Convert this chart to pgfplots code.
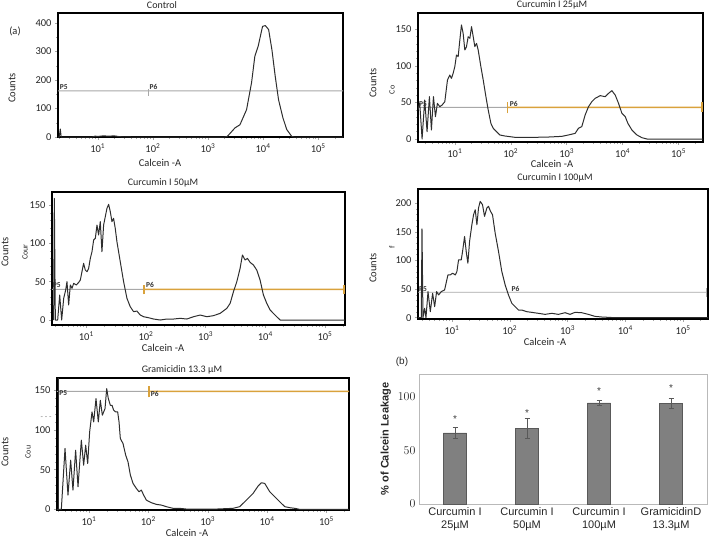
\documentclass[border=0pt]{standalone}
\usepackage{fontspec}
\setmainfont{Carlito}
\newfontfamily\arial{Liberation Sans}
\usepackage{pgfplots}
\pgfplotsset{compat=1.18}

\definecolor{gatecol}{HTML}{A8A8A8}
\definecolor{orangecol}{HTML}{D9A23C}
\definecolor{curvecol}{HTML}{2E2E2E}
\definecolor{barfill}{HTML}{808080}

\pgfplotsset{
 flow/.style={
  scale only axis,
  axis line style={line width=1.3pt, black},
  xtick={1,2,3,4,5},
  xticklabels={10\textsuperscript{1},10\textsuperscript{2},10\textsuperscript{3},10\textsuperscript{4},10\textsuperscript{5}},
  minor xtick={0.301,0.477,0.602,0.699,0.778,0.845,0.903,0.954,
   1.301,1.477,1.602,1.699,1.778,1.845,1.903,1.954,
   2.301,2.477,2.602,2.699,2.778,2.845,2.903,2.954,
   3.301,3.477,3.602,3.699,3.778,3.845,3.903,3.954,
   4.301,4.477,4.602,4.699,4.778,4.845,4.903,4.954,5.301},
  tick style={gray!70, line width=0.4pt},
  major tick length=3pt, minor tick length=2pt,
  tick align=outside, tick pos=left,
  /pgf/number format/assume math mode=true,
  tick label style={font=\fontsize{10.5}{12}\selectfont, text=black!85},
  clip=true,
 },
}
\tikzset{
 curve/.style={curvecol, line width=1pt, line join=round},
 gate/.style={gatecol, line width=0.9pt},
 gateo/.style={draw=orangecol, line width=1.4pt},
 plab/.style={font=\fontsize{7.5}{8}\selectfont\bfseries, text=black!80, inner sep=0.5pt},
}

\begin{document}
\begin{tikzpicture}[every node/.style={font=\fontsize{10.5}{12}\selectfont, text=black!85}]

% ---------------- Panel 1: Control
\begin{axis}[flow, at={(58pt,-137pt)}, anchor=south west, width=285pt, height=124pt,
  xmin=0.278, xmax=5.45, ymin=0, ymax=435, ytick={0,100,200,300,400}, minor y tick num=1]
\addplot[gate] coordinates {(0.278,162.01) (5.45,161.99)};
\addplot[gate] coordinates {(1.915,145) (1.915,170)};
\addplot[curve] coordinates {(0.278,0) (0.30,0) (0.32,28) (0.335,0) (0.9,0) (0.95,3) (1.0,2) (1.1,4) (1.2,3) (1.3,4) (1.4,1) (1.6,0) (3.3,0) (3.35,2) (3.49,32) (3.58,43) (3.70,96) (3.79,190) (3.85,283) (3.91,318) (3.95,353) (3.99,388) (4.04,391) (4.10,377) (4.16,306) (4.22,213) (4.28,131) (4.36,67) (4.43,26) (4.52,2) (4.56,0) (5.45,0)};
\node[plab, anchor=south west] at (axis cs:0.30,164) {P5};
\node[plab, anchor=south west] at (axis cs:1.93,164) {P6};
\end{axis}

% ---------------- Panel 2: Curcumin I 25uM
\begin{axis}[flow, at={(418pt,-142pt)}, anchor=south west, width=285pt, height=129pt,
  xmin=0.342, xmax=5.437, ymin=-4.1, ymax=172.3, ytick={0,50,100,150}, minor y tick num=4]
\addplot[gate] coordinates {(0.342,43.31) (1.944,43.29)};
\addplot[gateo] coordinates {(1.944,43.31) (5.43,43.29)};
\addplot[gateo] coordinates {(1.944,35) (1.944,50)};
\addplot[gateo] coordinates {(5.42,37) (5.42,50)};
\addplot[curve] coordinates {(0.342,40) (0.373,48.8) (0.415,0) (0.462,53.3) (0.504,10) (0.546,57.9) (0.582,12.3) (0.618,57.9) (0.654,30.5) (0.689,48.8) (0.731,44.2) (0.773,46.5) (0.821,51) (0.869,80.7) (0.910,87.5) (0.940,83) (0.970,89.8) (1.0,98.9) (1.030,114.9) (1.060,112.6) (1.090,135.4) (1.119,155.9) (1.149,144.5) (1.179,121.7) (1.209,126.3) (1.239,139.9) (1.269,137.7) (1.299,153.6) (1.329,139.9) (1.358,126.3) (1.388,130.8) (1.418,121.7) (1.466,98.9) (1.508,80.7) (1.556,57.9) (1.597,39.7) (1.645,21.4) (1.687,14.6) (1.747,10) (1.806,5.5) (1.896,4.1) (1.986,3.2) (2.075,2.3) (2.195,2.3) (2.434,2.3) (2.673,2.7) (2.912,3.6) (3.031,5.5) (3.151,7.7) (3.210,14.6) (3.270,16.9) (3.330,32.8) (3.390,44.2) (3.449,51) (3.509,55.6) (3.599,59.3) (3.688,57.9) (3.748,62.4) (3.808,66.1) (3.867,60.2) (3.927,48.8) (3.987,35.1) (4.047,30.5) (4.094,21.4) (4.166,12.3) (4.256,5.5) (4.345,1.8) (4.435,0) (5.437,0)};
\node[plab, anchor=south west] at (axis cs:0.35,44) {P5};
\node[plab, anchor=south west] at (axis cs:1.97,44) {P6};
\end{axis}

% ---------------- Panel 3: Curcumin I 50uM
\begin{axis}[flow, at={(52pt,-325pt)}, anchor=south west, width=293pt, height=133pt,
  xmin=0.425, xmax=5.335, ymin=-6.5, ymax=167, ytick={0,50,100,150}, minor y tick num=4]
\addplot[gate] coordinates {(0.425,40.01) (1.97,39.99)};
\addplot[gateo] coordinates {(1.97,40.01) (5.33,39.99)};
\addplot[gateo] coordinates {(1.97,33.5) (1.97,46)};
\addplot[gateo] coordinates {(5.32,34) (5.32,46)};
\addplot[curve] coordinates {(0.453,0) (0.464,158.7) (0.481,0) (0.520,0) (0.554,32.6) (0.587,0) (0.621,28.3) (0.654,39.1) (0.676,50) (0.704,19.6) (0.732,45.7) (0.760,41.3) (0.788,47.8) (0.833,45.7) (0.872,49.1) (0.900,52.2) (0.927,63) (0.955,73.9) (0.983,65.2) (1.011,63) (1.039,67.4) (1.067,80.4) (1.095,89.1) (1.123,104.4) (1.151,106.5) (1.179,123.9) (1.206,110.9) (1.234,128.3) (1.262,89.1) (1.290,123.9) (1.318,134.8) (1.346,145.7) (1.374,150.9) (1.402,141.3) (1.430,128.3) (1.457,132.6) (1.485,119.6) (1.513,102.2) (1.569,76.1) (1.625,50) (1.681,28.3) (1.736,17.4) (1.792,10.9) (1.848,11.7) (1.904,6.5) (1.960,4.3) (2.043,3) (2.127,1.3) (2.238,0) (2.350,1.3) (2.462,1.3) (2.573,2.2) (2.685,1.3) (2.796,4.3) (2.908,6.5) (3.020,4.3) (3.131,5.7) (3.243,8.7) (3.354,15.2) (3.410,21.7) (3.466,37) (3.522,50) (3.577,67.4) (3.616,84.8) (3.661,78.3) (3.700,80.4) (3.745,75.2) (3.801,71.7) (3.856,65.2) (3.912,52.2) (3.968,32.6) (4.024,21.7) (4.080,13) (4.163,6.5) (4.247,0) (5.335,0)};
\node[plab, anchor=south west] at (axis cs:0.43,41) {P5};
\node[plab, anchor=south west] at (axis cs:1.99,41) {P6};
\end{axis}

% ---------------- Panel 4: Curcumin I 100uM
\begin{axis}[flow, at={(418pt,-319pt)}, anchor=south west, width=290pt, height=130pt,
  xmin=0.413, xmax=5.43, ymin=-2.3, ymax=224.5, ytick={0,50,100,150,200}, minor y tick num=4]
\addplot[gate] coordinates {(0.413,44.31) (5.40,44.29)};
\addplot[gate] coordinates {(5.40,36) (5.40,52)};
\addplot[curve] coordinates {(0.413,0) (0.47,0) (0.482,155) (0.499,0) (0.528,16.3) (0.551,0) (0.586,45.5) (0.626,10.5) (0.666,42.6) (0.701,19.2) (0.735,45.5) (0.770,39.7) (0.816,45.5) (0.873,48.4) (0.931,74.6) (0.971,74.6) (1.012,77.6) (1.058,74.6) (1.086,80.5) (1.115,100.9) (1.161,100.9) (1.184,115.5) (1.219,141.7) (1.247,115.5) (1.276,95) (1.305,133) (1.345,162.1) (1.374,179.6) (1.403,188.3) (1.432,162.1) (1.460,191.3) (1.489,202.9) (1.529,197.1) (1.564,176.7) (1.604,191.3) (1.633,194.2) (1.668,185.4) (1.702,179.6) (1.748,147.5) (1.806,115.5) (1.863,80.5) (1.921,57.1) (1.978,39.7) (2.036,25.1) (2.094,19.2) (2.151,13.4) (2.209,13.4) (2.295,10.5) (2.381,9.3) (2.496,7.6) (2.612,5.8) (2.727,7.6) (2.842,5.8) (2.957,8.7) (3.043,5.8) (3.129,9.3) (3.245,8.7) (3.360,5.8) (3.475,2.3) (3.590,1.2) (3.820,0) (5.43,0)};
\node[plab, anchor=south west] at (axis cs:0.42,45) {P5};
\node[plab, anchor=south west] at (axis cs:2.02,45) {P6};
\end{axis}

% ---------------- Panel 5: Gramicidin 13.3 uM
\begin{axis}[flow, at={(57pt,-510pt)}, anchor=south west, width=292pt, height=132pt,
  xmin=0.461, xmax=5.38, ymin=-0.8, ymax=165.5, ytick={0,50,100,150}, minor y tick num=4]
\addplot[gate] coordinates {(0.461,148.71) (2.01,148.69)};
\addplot[gateo] coordinates {(2.01,148.71) (5.38,148.69)};
\addplot[gateo] coordinates {(2.01,141) (2.01,155)};
\addplot[curvecol, line width=0.8pt] coordinates {(0.48,0) (0.48,165)};
\addplot[curve] coordinates {(0.461,0) (0.534,0) (0.596,76.7) (0.646,18) (0.691,62) (0.730,24.3) (0.775,74.6) (0.815,28.5) (0.871,87.2) (0.910,55.7) (0.944,80.9) (0.978,57.8) (1.011,97.6) (1.051,122.8) (1.079,110.2) (1.118,139.5) (1.157,110.2) (1.191,137.4) (1.225,118.6) (1.270,127) (1.298,152.1) (1.326,139.5) (1.360,131.1) (1.388,131.1) (1.416,124.9) (1.449,122.8) (1.483,122.8) (1.506,110.2) (1.528,89.2) (1.573,83) (1.618,68.3) (1.657,59.9) (1.697,43.2) (1.742,32.7) (1.798,26.4) (1.843,22.2) (1.882,24.3) (1.921,18) (1.966,11.7) (2.051,8.4) (2.135,6.3) (2.219,5.4) (2.303,3.4) (2.416,1.3) (2.528,1.3) (2.640,0.4) (3.146,0.4) (3.427,1.3) (3.539,3.4) (3.652,11.7) (3.764,20.1) (3.848,29.3) (3.904,33.5) (3.961,32.7) (4.045,22.2) (4.129,15.9) (4.213,9.6) (4.298,3.4) (4.382,2.1) (4.466,1.3) (4.551,0) (5.38,0)};
\node[plab, anchor=west] at (axis cs:0.49,146) {P5};
\node[plab, anchor=west] at (axis cs:2.03,146) {P6};
\end{axis}

% ---------------- Panel b: bar chart
\begin{axis}[at={(419pt,-504pt)}, anchor=south west, scale only axis, width=288pt, height=130pt,
  xmin=-0.5, xmax=3.5, ymin=0, ymax=121.5, ybar, bar width=0.32,
  xtick={0,1,2,3}, xticklabels={Curcumin I\\25µM, Curcumin I\\50µM, Curcumin I\\100µM, GramicidinD\\13.3µM},
  xticklabel style={align=center, font=\arial\fontsize{11}{13}\selectfont, text=black!85},
  ytick={0,50,100}, yticklabel style={font=\arial\fontsize{12}{14}\selectfont, text=black!85},
  axis line style={gray!55, line width=0.6pt}, major tick length=0pt, tick pos=left,
  ylabel={\bfseries\% of Calcein Leakage}, ylabel style={font=\arial\fontsize{11}{13}\selectfont, text=black!85},
  ]
\addplot[fill=barfill, draw=black!65, line width=0.5pt,
  error bars/.cd, y dir=both, y explicit,
  error bar style={black!65, line width=0.6pt},
  error mark options={rotate=90, mark size=2.5pt, black!65, line width=0.6pt}]
  coordinates {(0,66.5) +- (0,5.2) (1,70.8) +- (0,9.2) (2,94.5) +- (0,2.5) (3,94) +- (0,5)};
\node[font=\arial\fontsize{10}{10}\selectfont, text=black!75] at (axis cs:0,79) {*};
\node[font=\arial\fontsize{10}{10}\selectfont, text=black!75] at (axis cs:1,85) {*};
\node[font=\arial\fontsize{10}{10}\selectfont, text=black!75] at (axis cs:2,106) {*};
\node[font=\arial\fontsize{10}{10}\selectfont, text=black!75] at (axis cs:3,108) {*};
\end{axis}

% ---------------- free text
\node at (15pt,-31pt) {(a)};
\node[font=\arial\fontsize{10}{12}\selectfont] at (402pt,-362pt) {(b)};
\node[font=\fontsize{10}{12}\selectfont] at (162pt,-5pt) {Control};
\node[font=\fontsize{10}{12}\selectfont] at (552pt,-5pt) {Curcumin I 25µM};
\node[font=\fontsize{10}{12}\selectfont] at (163pt,-183pt) {Curcumin I 50µM};
\node[font=\fontsize{10}{12}\selectfont] at (555pt,-178pt) {Curcumin I 100µM};
\node[font=\fontsize{10}{12}\selectfont] at (182pt,-370pt) {Gramicidin 13.3 µM};
\node[rotate=90] at (12pt,-88pt) {Counts};
\node[rotate=90] at (373pt,-83pt) {Counts};
\node[rotate=90] at (5pt,-252pt) {Counts};
\node[rotate=90] at (373pt,-268pt) {Counts};
\node[rotate=90] at (5pt,-452pt) {Counts};
\node[rotate=90, font=\fontsize{8}{9}\selectfont] at (392pt,-90pt) {Co};
\node[rotate=90, font=\fontsize{8}{9}\selectfont] at (25pt,-252pt) {Cour};
\node[rotate=90, font=\fontsize{8}{9}\selectfont] at (392pt,-247pt) {f};
\node[rotate=90, font=\fontsize{8}{9}\selectfont] at (28pt,-452pt) {Cou};
\node[font=\fontsize{8}{9}\selectfont, text=gray] at (46pt,-418pt) {- - -};
\node at (160pt,-163pt) {Calcein -A};
\node at (552pt,-164pt) {Calcein -A};
\node at (163pt,-348pt) {Calcein -A};
\node at (545pt,-342pt) {Calcein -A};
\node at (187pt,-533pt) {Calcein -A};

\pgfresetboundingbox
\path[use as bounding box] (0pt,0pt) rectangle (710pt,-541pt);
\end{tikzpicture}
\end{document}
